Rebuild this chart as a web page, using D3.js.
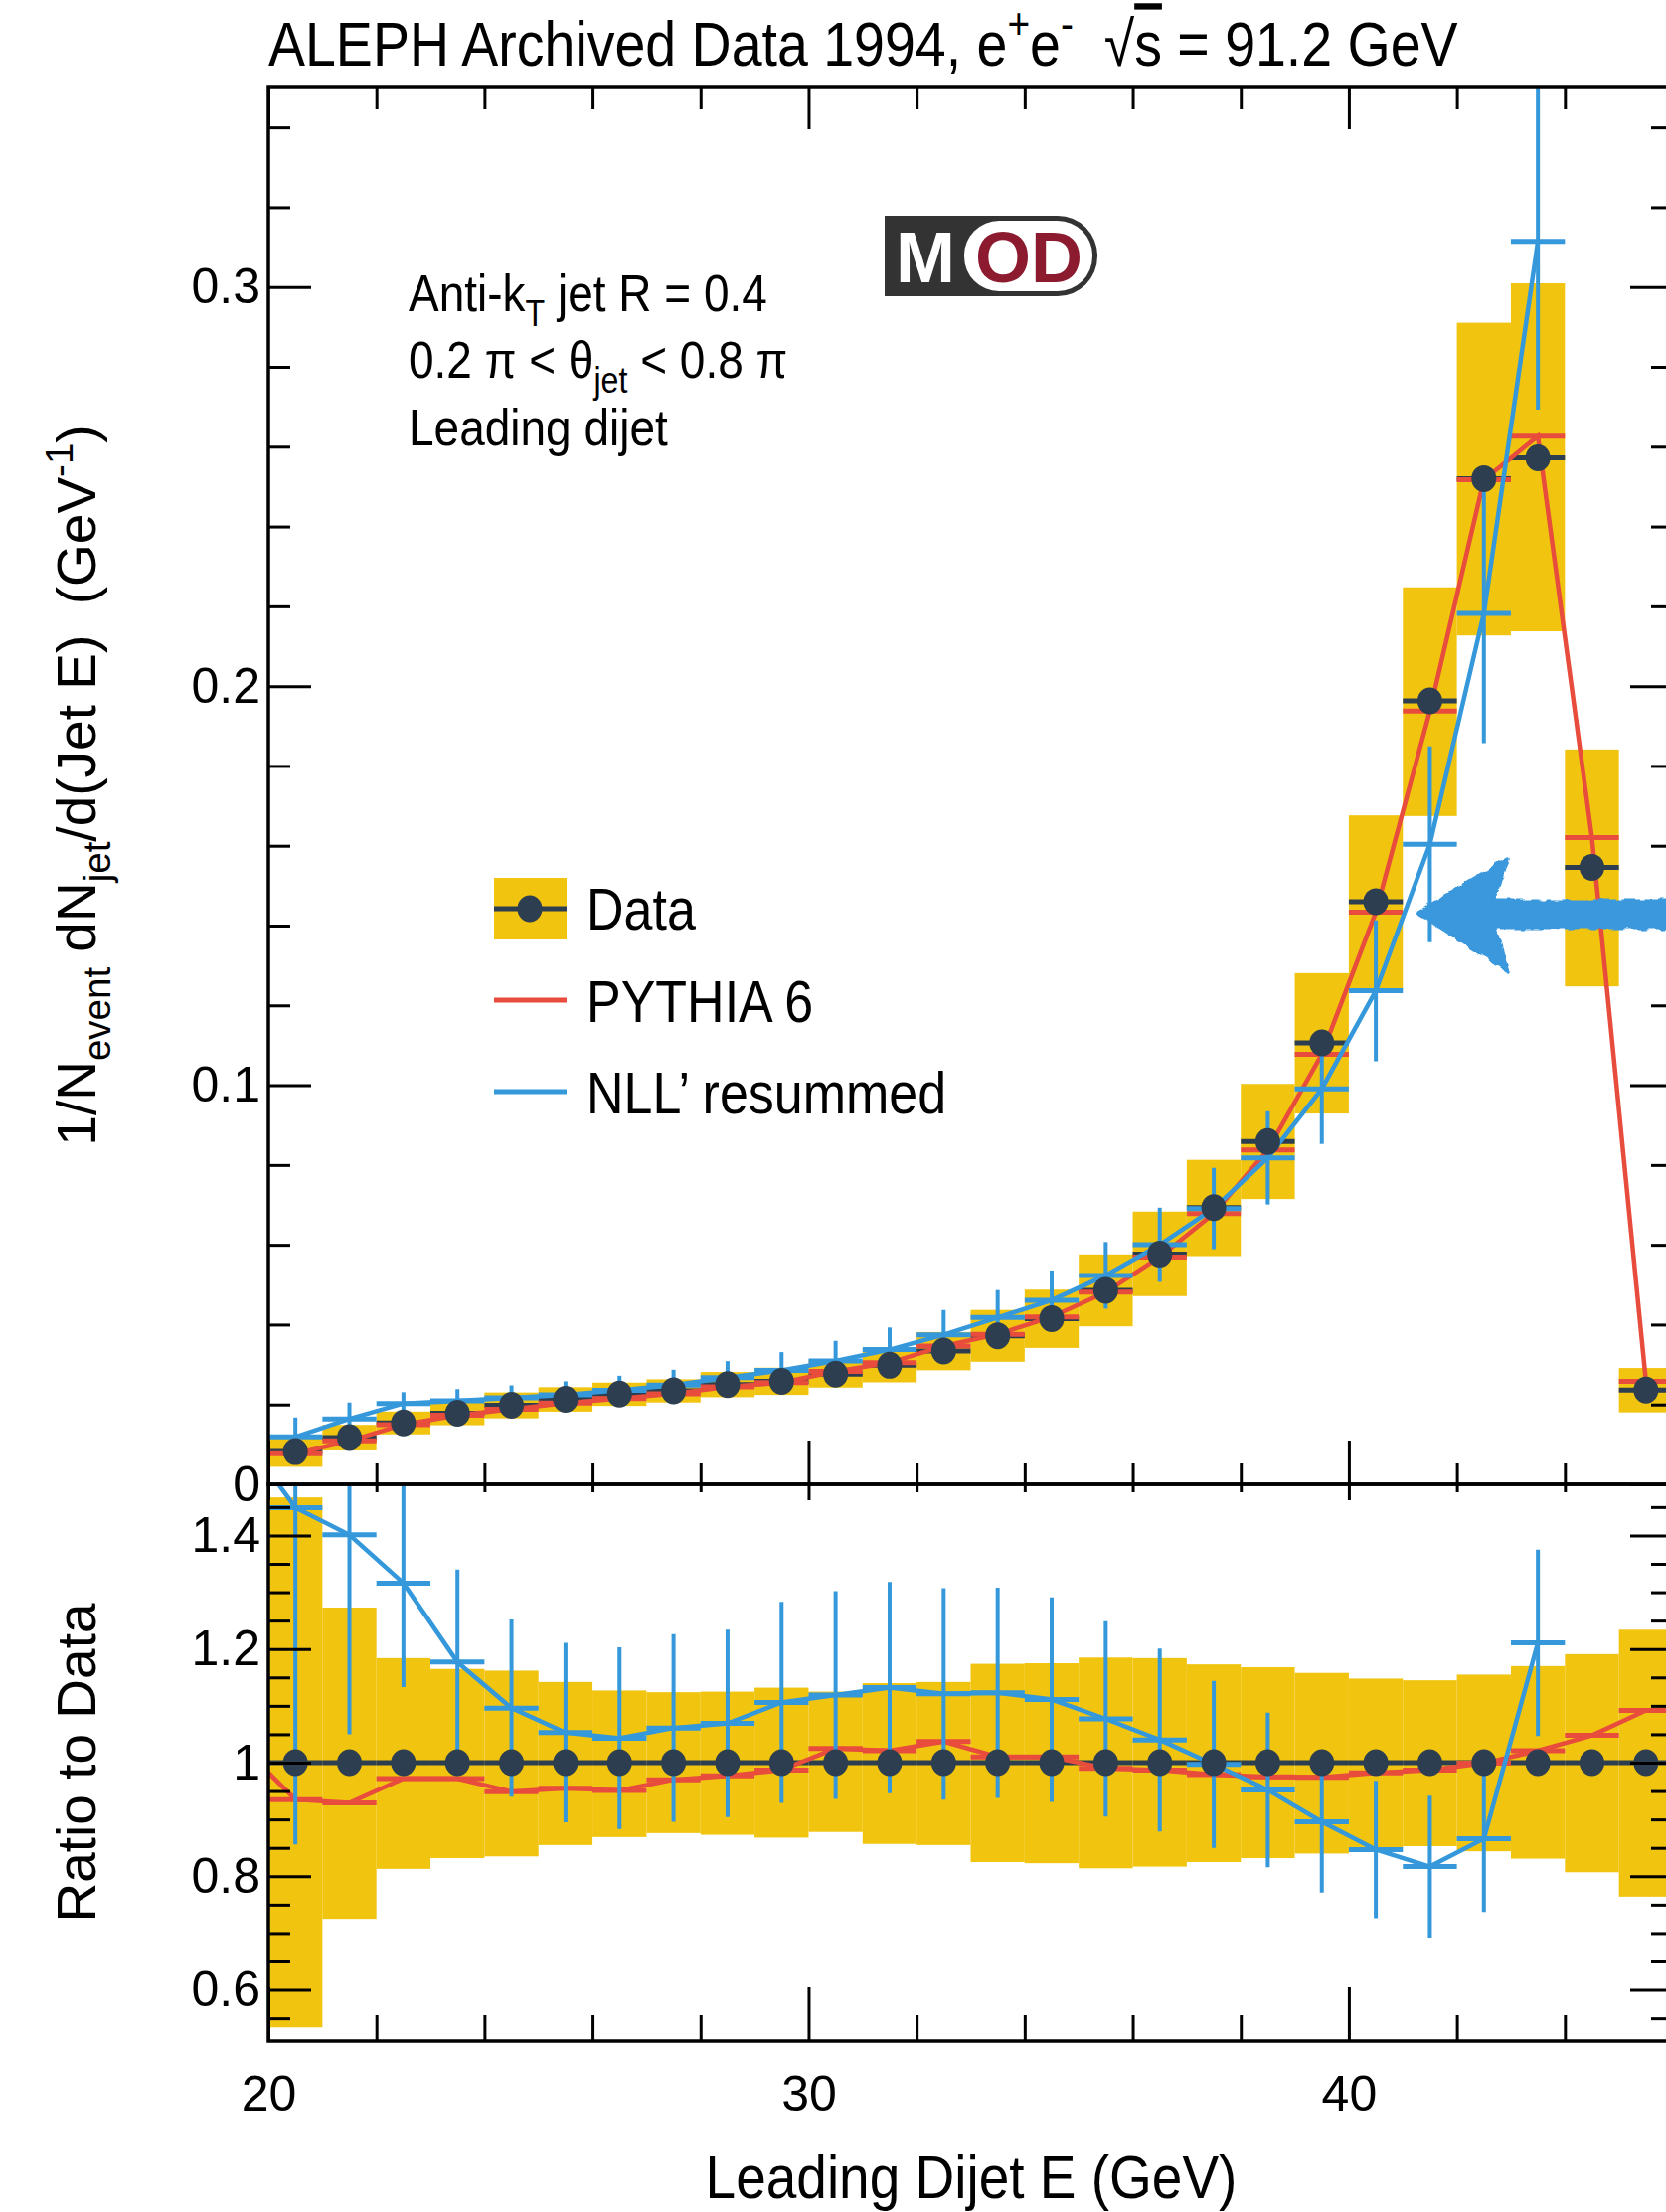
<!DOCTYPE html>
<html>
<head>
<meta charset="utf-8">
<script src="https://cdn.jsdelivr.net/npm/d3@7"></script>
<style>
  body { margin: 0; background: #fff; }
  svg text { font-family: "Liberation Sans", Arial, Helvetica, sans-serif; white-space: pre; }
</style>
</head>
<body>
<script>
// bin centres, GeV
const energy = [20.5, 21.5, 22.5, 23.5, 24.5, 25.5, 26.5, 27.5, 28.5, 29.5, 30.5, 31.5, 32.5,
    33.5, 34.5, 35.5, 36.5, 37.5, 38.5, 39.5, 40.5, 41.5, 42.5, 43.5, 44.5, 45.5];

// measured distribution
const dataVal = [0.0082, 0.0117, 0.0154, 0.0178, 0.0198, 0.0213, 0.0226, 0.0234, 0.0250, 0.0258,
    0.0276, 0.0298, 0.0334, 0.0372, 0.0415, 0.0486, 0.0577, 0.0693, 0.0859, 0.1106,
    0.1460, 0.1963, 0.2520, 0.2572, 0.1546, 0.0236];

// data uncertainty band, as ratio to data
const bandHi = [1.467, 1.273, 1.184, 1.165, 1.162, 1.142, 1.127, 1.124, 1.125, 1.132, 1.125, 1.140, 1.142,
    1.174, 1.175, 1.185, 1.184, 1.173, 1.168, 1.158, 1.148, 1.145, 1.155, 1.170, 1.191, 1.234];
const bandLo = [0.534, 0.725, 0.813, 0.832, 0.835, 0.855, 0.869, 0.876, 0.873, 0.868, 0.878, 0.857, 0.855,
    0.825, 0.823, 0.814, 0.817, 0.825, 0.832, 0.840, 0.850, 0.853, 0.844, 0.831, 0.807, 0.764];

// PYTHIA 6 / data
const pythiaRatio = [0.935, 0.929, 0.972, 0.972, 0.949, 0.955, 0.951, 0.970, 0.977, 0.987, 1.025, 1.021, 1.037,
    1.010, 1.010, 0.990, 0.987, 0.979, 0.975, 0.974, 0.982, 0.987, 0.999, 1.021, 1.048, 1.092];

// NLL' resummed / data (no prediction above 44 GeV) and its uncertainty
const nllRatio = [1.449, 1.401, 1.316, 1.177, 1.096, 1.053, 1.043, 1.061, 1.069, 1.106, 1.119, 1.132, 1.121,
    1.123, 1.111, 1.077, 1.040, 0.997, 0.952, 0.896, 0.847, 0.817, 0.866, 1.211];
const nllErr = [0.593, 0.351, 0.183, 0.163, 0.156, 0.158, 0.160, 0.165, 0.165, 0.177, 0.183, 0.186, 0.186,
    0.185, 0.180, 0.172, 0.161, 0.147, 0.136, 0.125, 0.121, 0.125, 0.129, 0.164];

// ratio just below 20 GeV, only the line into the frame shows
const underflowE = 19.5, pythiaRatioUnder = 1.03, nllRatioUnder = 1.58;

// tick values
const xMajor = [20, 30, 40];
const xMinor = [22, 24, 26, 28, 32, 34, 36, 38, 42, 44];
const yTopMajor = [0, 0.1, 0.2, 0.3];
const yTopMinor = [0.02, 0.04, 0.06, 0.08, 0.12, 0.14, 0.16, 0.18, 0.22, 0.24, 0.26, 0.28, 0.32, 0.34];
const yRatMajor = [0.6, 0.8, 1, 1.2, 1.4];
const yRatMinor = [0.55, 0.65, 0.7, 0.75, 0.85, 0.9, 0.95, 1.05, 1.1, 1.15, 1.25, 1.3, 1.35, 1.45];

// hand drawn arrow, in data units of the upper pad
const arrowX = [41.25, 42.95, 42.7, 46.5, 46.5, 42.7, 42.95];
const arrowY = [0.1432, 0.157, 0.1462, 0.1462, 0.1395, 0.1395, 0.1285];

const yellow = "#f1c40f", red = "#e74c3c", blue = "#3498db", dark = "#2c3e50";
const font = '"Liberation Sans", Arial, Helvetica, sans-serif';

const svg = d3.select("body").append("svg")
    .attr("width", 1676)
    .attr("height", 2225);

const x = d3.scaleLinear().domain([20, 46]).range([270, 1683]);
const yTop = d3.scaleLinear().domain([0, 0.35]).range([1493, 88]);
const yRat = d3.scaleLinear().domain([0.51, 1.49]).range([2053, 1493]);

const rows = energy.map(function (e, i) {
    return {e: e, v: dataVal[i], hi: bandHi[i], lo: bandLo[i], py: pythiaRatio[i],
        nll: nllRatio[i], err: nllErr[i]};
});
const nllRows = rows.filter(function (d) { return d.nll !== undefined; });

// clip regions for both pads, rough edge for the arrow
const defs = svg.append("defs");
defs.append("clipPath").attr("id", "clipTop").append("rect")
    .attr("x", 270).attr("y", 88).attr("width", 1413).attr("height", 1405);
defs.append("clipPath").attr("id", "clipRat").append("rect")
    .attr("x", 270).attr("y", 1493).attr("width", 1413).attr("height", 560);
const rough = defs.append("filter").attr("id", "rough")
    .attr("x", "-10%").attr("y", "-30%").attr("width", "120%").attr("height", "160%");
rough.append("feTurbulence").attr("type", "fractalNoise").attr("baseFrequency", 0.09)
    .attr("numOctaves", 2).attr("seed", 3).attr("result", "noise");
rough.append("feDisplacementMap").attr("in", "SourceGraphic").attr("in2", "noise")
    .attr("scale", 7).attr("xChannelSelector", "R").attr("yChannelSelector", "G");

// draw one pad: band, data, pythia, nll
function drawPad(yScale, clip, asRatio) {
    const g = svg.append("g").attr("clip-path", "url(#" + clip + ")");
    const scaleBy = function (d) { return asRatio ? 1 : d.v; };

    g.selectAll(".band").data(rows).enter().append("rect")
        .attr("x", function (d) { return x(d.e - 0.5); })
        .attr("width", function (d) { return x(d.e + 0.5) - x(d.e - 0.5); })
        .attr("y", function (d) { return yScale(d.hi * scaleBy(d)); })
        .attr("height", function (d) { return yScale(d.lo * scaleBy(d)) - yScale(d.hi * scaleBy(d)); })
        .style("fill", yellow);

    // data bin-width bars
    g.selectAll(".dbar").data(rows).enter().append("line")
        .attr("x1", function (d) { return x(d.e - 0.5); })
        .attr("x2", function (d) { return x(d.e + 0.5); })
        .attr("y1", function (d) { return yScale(asRatio ? 1 : d.v); })
        .attr("y2", function (d) { return yScale(asRatio ? 1 : d.v); })
        .style("stroke", dark).style("stroke-width", 5);

    // pythia
    let pyPts = rows.map(function (d) { return [d.e, d.py * scaleBy(d)]; });
    if (asRatio) pyPts = [[underflowE, pythiaRatioUnder]].concat(pyPts);
    g.append("path")
        .attr("d", d3.line().x(function (p) { return x(p[0]); }).y(function (p) { return yScale(p[1]); })(pyPts))
        .style("fill", "none").style("stroke", red).style("stroke-width", 4.5);
    g.selectAll(".pbar").data(rows).enter().append("line")
        .attr("x1", function (d) { return x(d.e - 0.5); })
        .attr("x2", function (d) { return x(d.e + 0.5); })
        .attr("y1", function (d) { return yScale(d.py * scaleBy(d)); })
        .attr("y2", function (d) { return yScale(d.py * scaleBy(d)); })
        .style("stroke", red).style("stroke-width", 5);

    // nll' resummed
    let nPts = nllRows.map(function (d) { return [d.e, d.nll * scaleBy(d)]; });
    if (asRatio) nPts = [[underflowE, nllRatioUnder]].concat(nPts);
    g.append("path")
        .attr("d", d3.line().x(function (p) { return x(p[0]); }).y(function (p) { return yScale(p[1]); })(nPts))
        .style("fill", "none").style("stroke", blue).style("stroke-width", 4.5);
    g.selectAll(".nbar").data(nllRows).enter().append("line")
        .attr("x1", function (d) { return x(d.e - 0.5); })
        .attr("x2", function (d) { return x(d.e + 0.5); })
        .attr("y1", function (d) { return yScale(d.nll * scaleBy(d)); })
        .attr("y2", function (d) { return yScale(d.nll * scaleBy(d)); })
        .style("stroke", blue).style("stroke-width", 5);
    g.selectAll(".nerr").data(nllRows).enter().append("line")
        .attr("x1", function (d) { return x(d.e); })
        .attr("x2", function (d) { return x(d.e); })
        .attr("y1", function (d) { return yScale((d.nll + d.err) * scaleBy(d)); })
        .attr("y2", function (d) { return yScale((d.nll - d.err) * scaleBy(d)); })
        .style("stroke", blue).style("stroke-width", 4);

    // data markers
    g.selectAll(".dot").data(rows).enter().append("ellipse")
        .attr("cx", function (d) { return x(d.e); })
        .attr("cy", function (d) { return yScale(asRatio ? 1 : d.v); })
        .attr("rx", 12.5).attr("ry", 13.5)
        .style("fill", dark);
}

drawPad(yTop, "clipTop", false);
drawPad(yRat, "clipRat", true);

// axes, ticks pointing into the frame
function tickAxis(gen, values, size, at, labels) {
    const g = svg.append("g")
        .attr("transform", at)
        .call(gen.tickValues(values).tickSize(size).tickPadding(labels ? labels.pad : 0)
            .tickFormat(labels ? labels.fmt : ""))
        .attr("font-family", font)
        .attr("font-size", 50);
    g.select(".domain").remove();
    g.selectAll(".tick line").style("stroke", "#000").style("stroke-width", 3);
    return g;
}
const fmt = function (d) { return String(d); };

// upper pad
tickAxis(d3.axisLeft(yTop), yTopMajor, -43, "translate(270,0)", {pad: 8, fmt: fmt});
tickAxis(d3.axisLeft(yTop), yTopMinor, -22, "translate(270,0)");
tickAxis(d3.axisRight(yTop), yTopMajor, -43, "translate(1683,0)");
tickAxis(d3.axisRight(yTop), yTopMinor, -22, "translate(1683,0)");
tickAxis(d3.axisTop(x), xMajor, -42, "translate(0,88)");
tickAxis(d3.axisTop(x), xMinor, -22, "translate(0,88)");
tickAxis(d3.axisBottom(x), xMajor, -44, "translate(0,1493)");
tickAxis(d3.axisBottom(x), xMinor, -21, "translate(0,1493)");

// ratio pad
tickAxis(d3.axisLeft(yRat), yRatMajor, -43, "translate(270,0)", {pad: 8, fmt: fmt});
tickAxis(d3.axisLeft(yRat), yRatMinor, -22, "translate(270,0)");
tickAxis(d3.axisRight(yRat), yRatMajor, -43, "translate(1683,0)");
tickAxis(d3.axisRight(yRat), yRatMinor, -22, "translate(1683,0)");
tickAxis(d3.axisTop(x), xMajor, -16, "translate(0,1493)");
tickAxis(d3.axisTop(x), xMinor, -8, "translate(0,1493)");
tickAxis(d3.axisBottom(x), xMajor, -54, "translate(0,2053)", {pad: 34, fmt: fmt});
tickAxis(d3.axisBottom(x), xMinor, -26, "translate(0,2053)");

// frames
[[88, 1493], [1493, 2053]].forEach(function (r) {
    svg.append("rect")
        .attr("x", 270).attr("y", r[0])
        .attr("width", 1413).attr("height", r[1] - r[0])
        .style("fill", "none").style("stroke", "#000").style("stroke-width", 3.5);
});

// text with sub/superscripts, slightly tall letters like the original
function richText(parent, parts, size, px, py, stretch) {
    const t = parent.append("text")
        .attr("font-size", size)
        .attr("transform", "translate(" + px + "," + py + ") scale(1," + (stretch || 1.14) + ")")
        .style("fill", "#000");
    let shift = 0;
    parts.forEach(function (p) {
        const s = p[1] === "sub" ? 0.28 * size : p[1] === "sup" ? -0.42 * size : 0;
        const sp = t.append("tspan")
            .attr("dy", s - shift)
            .attr("font-size", p[1] === "sub" || p[1] === "sup" ? size * 0.7 : size)
            .text(p[0]);
        if (p[1] === "bar") sp.style("text-decoration", "overline");
        shift = s;
    });
    return t;
}

// title
richText(svg, [["ALEPH Archived Data 1994, e", ""], ["+", "sup"], ["e", ""], ["-", "sup"],
    ["  \u221A", ""], ["s", "bar"], [" = 91.2 GeV", ""]], 55.5, 270, 66);

// axis titles
richText(svg, [["1/N", ""], ["event", "sub"], [" dN", ""], ["jet", "sub"], ["/d(Jet E)  (GeV", ""],
    ["-1", "sup"], [")", ""]], 55, 0, 0, 1)
    .attr("text-anchor", "middle")
    .attr("transform", "translate(96,790) rotate(-90)");
svg.append("text")
    .attr("font-size", 55)
    .attr("text-anchor", "middle")
    .attr("transform", "translate(96,1773) rotate(-90)")
    .text("Ratio to Data");
richText(svg, [["Leading Dijet E (GeV)", ""]], 55, 977, 2211, 1.1)
    .attr("text-anchor", "middle");

// selection notes
richText(svg, [["Anti-k", ""], ["T", "sub"], [" jet R = 0.4", ""]], 46, 411, 313);
richText(svg, [["0.2 \u03C0 < \u03B8", ""], ["jet", "sub"], [" < 0.8 \u03C0", ""]], 46, 411, 380);
richText(svg, [["Leading dijet", ""]], 46, 411, 448);

// MOD logo
const logo = svg.append("g").attr("transform", "translate(890,217)");
logo.append("path")
    .attr("d", "M0,0 H174 A40,40 0 0 1 214,40 V41 A40,40 0 0 1 174,81 H0 Z")
    .style("fill", "#333");
logo.append("rect")
    .attr("x", 80).attr("y", 5).attr("width", 129).attr("height", 71).attr("rx", 35)
    .style("fill", "#fff");
logo.append("text")
    .attr("x", 41).attr("y", 67).attr("text-anchor", "middle")
    .attr("font-size", 72).attr("font-weight", "bold")
    .style("fill", "#fff").text("M");
logo.append("text")
    .attr("x", 145).attr("y", 67).attr("text-anchor", "middle")
    .attr("font-size", 72).attr("font-weight", "bold")
    .style("fill", "#8c1b2f").text("OD");

// legend
const legend = svg.append("g");
legend.append("rect").attr("x", 497).attr("y", 883).attr("width", 73).attr("height", 62).style("fill", yellow);
legend.append("line").attr("x1", 497).attr("x2", 570).attr("y1", 914).attr("y2", 914)
    .style("stroke", dark).style("stroke-width", 5);
legend.append("ellipse").attr("cx", 533).attr("cy", 914).attr("rx", 12.5).attr("ry", 13.5).style("fill", dark);
legend.append("line").attr("x1", 497).attr("x2", 570).attr("y1", 1006).attr("y2", 1006)
    .style("stroke", red).style("stroke-width", 5);
legend.append("line").attr("x1", 497).attr("x2", 570).attr("y1", 1098).attr("y2", 1098)
    .style("stroke", blue).style("stroke-width", 5);
[["Data", 914], ["PYTHIA 6", 1007], ["NLL\u2019 resummed", 1099]].forEach(function (l) {
    richText(legend, [[l[0], ""]], 52, 590, l[1] + 21);
});

// arrow pointing at the 41 GeV bin
svg.append("path")
    .attr("d", d3.line()
        .x(function (d, i) { return x(arrowX[i]); })
        .y(function (d, i) { return yTop(arrowY[i]); })(arrowX) + "Z")
    .attr("filter", "url(#rough)")
    .style("fill", "#3a98dc")
    .style("stroke", "#3a98dc")
    .style("stroke-width", 3)
    .style("stroke-linejoin", "round");
</script>
</body>
</html>
